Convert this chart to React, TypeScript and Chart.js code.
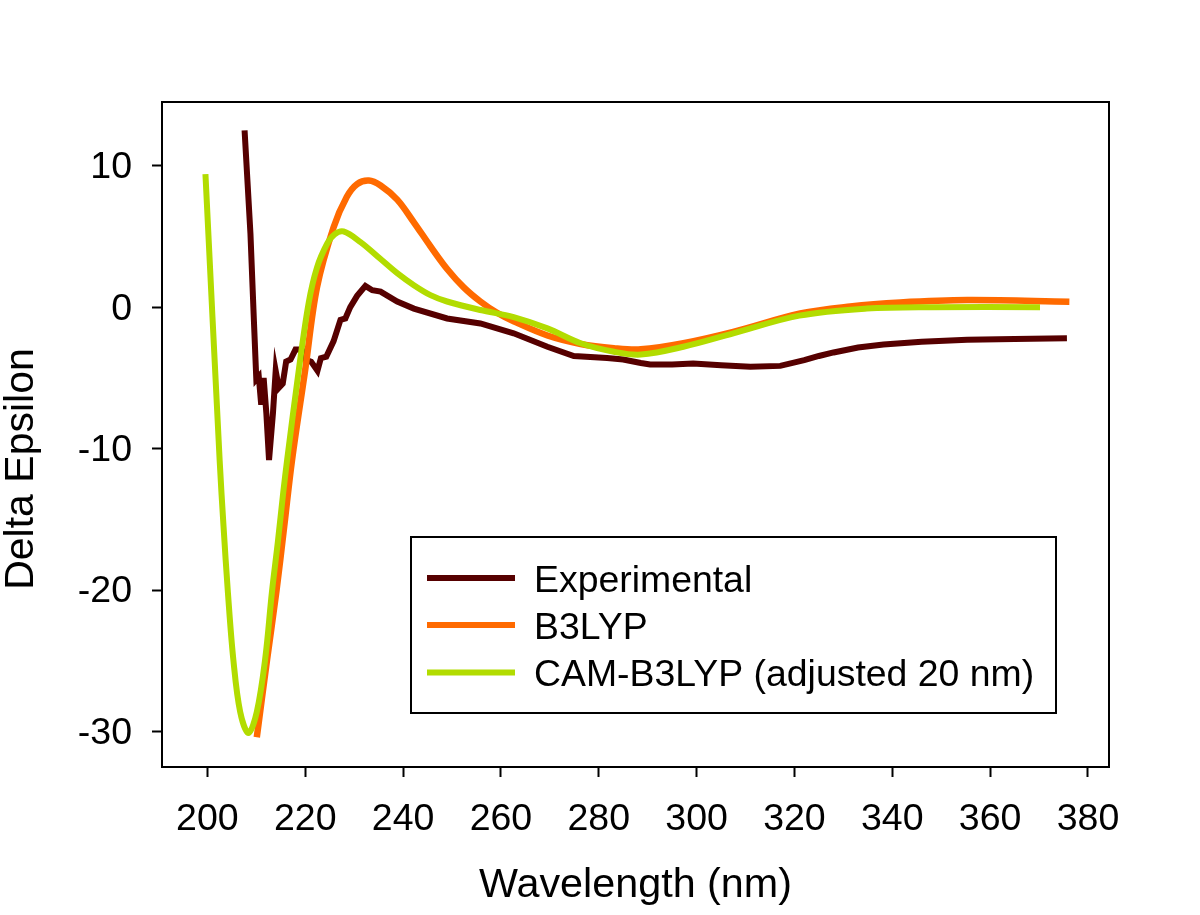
import React, { useEffect, useRef } from "react";
import { Chart, registerables } from "chart.js";

Chart.register(...registerables);

const FONT = "'Liberation Sans', Arial, sans-serif";

const xTicks = [200, 220, 240, 260, 280, 300, 320, 340, 360, 380];
const yTicks = [-30, -20, -10, 0, 10];

const seriesNames = ["Experimental", "B3LYP", "CAM-B3LYP (adjusted 20 nm)"];
const seriesColors = ["#560000", "#ff6a00", "#b2dc00"];

const expX = [207.6, 208.8, 209.5, 210, 210.5, 211, 211.5, 212.05, 212.6, 213.4, 213.96, 214.6, 215.4, 216.1, 217, 218, 219.3, 220, 221.2, 222.5, 223.2, 224.3, 225.8, 227.2, 228.2, 229.2, 230.6, 232.3, 233.7, 235.4, 238.8, 242.2, 249, 255.8, 262.6, 269.5, 274.9, 281.7, 285, 288.6, 290.5, 295, 299.3, 305, 311, 317.1, 322, 325, 328, 333, 338.2, 346, 355.3, 365, 375.7];
const expY = [12.5, 5.2, -0.9, -5.1, -4.9, -6.9, -5.0, -7.5, -10.8, -7.5, -4.5, -5.7, -5.4, -3.85, -3.7, -3.0, -3.0, -3.7, -3.85, -4.5, -3.6, -3.5, -2.4, -0.9, -0.8, 0.0, 0.8, 1.5, 1.2, 1.1, 0.4, -0.1, -0.8, -1.15, -1.85, -2.8, -3.45, -3.6, -3.7, -3.95, -4.05, -4.05, -3.98, -4.1, -4.22, -4.15, -3.75, -3.45, -3.2, -2.85, -2.64, -2.45, -2.3, -2.25, -2.2];

const b3X = [210.1, 212.2, 214.1, 215.7, 217.3, 220, 222.4, 225.8, 228.5, 230.6, 233, 235.4, 238.8, 242.2, 245.6, 249, 252.4, 255.8, 259.2, 262.6, 269.5, 276.3, 283.1, 288.6, 297.3, 307.5, 321.2, 331.4, 341.6, 355.3, 376.2];
const b3Y = [-30.4, -24.9, -20.1, -15.5, -10.8, -4.4, 1.4, 5.65, 7.8, 8.7, 8.95, 8.6, 7.6, 6.0, 4.3, 2.7, 1.4, 0.4, -0.4, -1.0, -2.0, -2.6, -2.9, -2.98, -2.55, -1.75, -0.45, 0.05, 0.33, 0.5, 0.39];

const camX = [199.6, 202.5, 203.3, 204.2, 205.3, 206.7, 208.4, 210.1, 211.8, 213.2, 214.4, 215.5, 216.3, 218.7, 220.7, 222.4, 224.5, 226, 227.8, 231.3, 235.4, 238.8, 242.2, 245.6, 249, 255.8, 262.6, 269.5, 276.3, 283.1, 288.6, 297.3, 307.5, 321, 334.8, 348, 370.2];
const camY = [9.4, -10.8, -15.5, -20.2, -24.9, -28.6, -30.1, -28.6, -24.9, -20.1, -16.6, -13.1, -10.8, -4.4, 0.3, 2.8, 4.5, 5.15, 5.35, 4.6, 3.4, 2.4, 1.55, 0.85, 0.4, -0.2, -0.7, -1.5, -2.55, -3.15, -3.35, -2.8, -1.85, -0.6, -0.1, 0.0, 0.0];

const toPoints = (xs: number[], ys: number[]) => xs.map((x, i) => ({ x, y: ys[i] }));

const framePlugin = {
  id: "frameAndLegend",
  afterDraw(chart: any) {
    const { ctx, chartArea: a } = chart;
    ctx.save();
    ctx.strokeStyle = "#000";
    ctx.lineWidth = 2;
    ctx.strokeRect(a.left, a.top, a.right - a.left, a.bottom - a.top);

    const box = { l: 411, t: 537, r: 1056, b: 713 };
    ctx.fillStyle = "#fff";
    ctx.fillRect(box.l, box.t, box.r - box.l, box.b - box.t);
    ctx.strokeRect(box.l, box.t, box.r - box.l, box.b - box.t);

    ctx.font = `37.4px ${FONT}`;
    ctx.textBaseline = "alphabetic";
    ctx.textAlign = "left";
    const rows = [578, 625, 672.5];
    seriesNames.forEach((name, i) => {
      ctx.strokeStyle = seriesColors[i];
      ctx.lineWidth = 6;
      ctx.beginPath();
      ctx.moveTo(427, rows[i]);
      ctx.lineTo(515, rows[i]);
      ctx.stroke();
      ctx.fillStyle = "#000";
      ctx.fillText(name, 534, rows[i] + 13.7);
    });

    ctx.translate(22, 469);
    ctx.rotate(-Math.PI / 2);
    ctx.textAlign = "center";
    ctx.textBaseline = "middle";
    ctx.font = `41px ${FONT}`;
    ctx.fillText("Delta Epsilon", 0, 0);
    ctx.restore();
  },
};

export default function App() {
  const ref = useRef<HTMLCanvasElement | null>(null);
  useEffect(() => {
    const canvas = ref.current;
    if (!canvas) return;
    const mk = (index: number, xs: number[], ys: number[], width: number, tension: number) => ({
      label: seriesNames[index],
      data: toPoints(xs, ys),
      borderColor: seriesColors[index],
      backgroundColor: seriesColors[index],
      borderWidth: width,
      pointRadius: 0,
      fill: false,
      borderCapStyle: "butt" as const,
      tension,
    });
    const chart = new Chart(canvas, {
      type: "line",
      data: {
        datasets: [
          mk(2, camX, camY, 6, 0.35),
          mk(1, b3X, b3Y, 6.5, 0.35),
          mk(0, expX, expY, 6, 0),
        ],
      },
      options: {
        responsive: false,
        animation: false,
        devicePixelRatio: 1,
        layout: { padding: { top: 102, right: 91, bottom: 0, left: 0 } },
        plugins: { legend: { display: false }, tooltip: { enabled: false } },
        scales: {
          x: {
            type: "linear",
            min: 190.72,
            max: 384.3,
            afterBuildTicks: (s: any) => {
              s.ticks = xTicks.map((value) => ({ value }));
            },
            afterFit: (s: any) => {
              s.height = 148;
            },
            grid: { drawOnChartArea: false, drawTicks: true, tickLength: 10, tickWidth: 2, tickColor: "#000" },
            border: { color: "#000", width: 2 },
            ticks: { color: "#000", font: { family: FONT, size: 37.5 }, padding: 20, maxRotation: 0, autoSkip: false },
            title: {
              display: true,
              text: "Wavelength (nm)",
              color: "#000",
              font: { family: FONT, size: 41.3 },
              padding: { top: 0, bottom: 5 },
            },
          },
          y: {
            type: "linear",
            min: -32.5,
            max: 14.5,
            afterBuildTicks: (s: any) => {
              s.ticks = yTicks.map((value) => ({ value }));
            },
            afterFit: (s: any) => {
              s.width = 162;
            },
            grid: { drawOnChartArea: false, drawTicks: true, tickLength: 10, tickWidth: 2, tickColor: "#000" },
            border: { color: "#000", width: 2 },
            ticks: { color: "#000", font: { family: FONT, size: 37.5 }, padding: 20, autoSkip: false, labelOffset: 2 },
          },
        },
      },
      plugins: [framePlugin],
    } as any);
    return () => chart.destroy();
  }, []);
  return (
    <canvas
      ref={ref}
      width={1200}
      height={915}
      style={{ position: "absolute", left: 0, top: 0, display: "block" }}
    />
  );
}
